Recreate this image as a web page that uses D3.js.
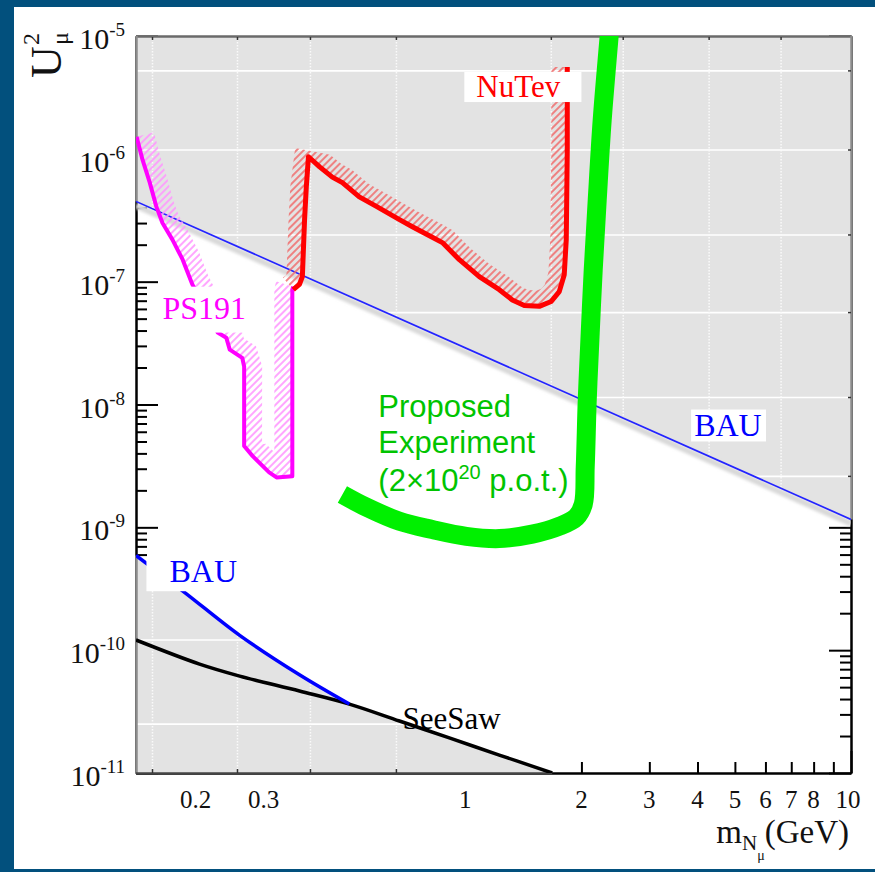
<!DOCTYPE html>
<html>
<head>
<meta charset="utf-8">
<script src="https://cdn.jsdelivr.net/npm/d3@7"></script>
<style>
  html, body { margin: 0; padding: 0; background: #02507d; }
  svg { display: block; }
</style>
</head>
<body>
<div id="chart"></div>
<script>
// ---- data (mass in GeV, U^2) ----
var massLabels = [0.2, 0.3, 1, 2, 3, 4, 5, 6, 7, 8, 10];
var massMinor = [0.2, 0.3, 0.4, 0.5, 0.6, 0.7, 0.8, 0.9, 2, 3, 4, 5, 6, 7, 8, 9];
var massMajor = [1, 10];
var u2Decades = [-11, -10, -9, -8, -7, -6, -5];

var bauUpper = [[0.14, 4.5e-7], [10, 1.16e-9]];
var bauLower = [[0.14, 5.9e-10], [0.187, 2.96e-10], [0.260, 1.32e-10], [0.3715, 6.3e-11], [0.5005, 3.64e-11]];
var seesaw = [[0.14, 1.21e-10], [0.2046, 7.7e-11], [0.260, 6.15e-11], [0.3715, 4.65e-11], [0.5005, 3.64e-11],
              [0.675, 2.65e-11], [0.909, 1.93e-11], [1.225, 1.40e-11], [1.65, 1.02e-11], [1.68, 1e-11]];

var ps191 = [[0.1405, 1.51e-6], [0.1456, 9.8e-7], [0.152, 6.4e-7], [0.158, 4.1e-7], [0.164, 3.0e-7],
             [0.174, 2.2e-7], [0.185, 1.51e-7], [0.196, 9.5e-8], [0.228, 3.85e-8], [0.240, 3.5e-8],
             [0.245, 2.8e-8], [0.264, 2.4e-8], [0.267, 2.04e-8], [0.267, 4.6e-9], [0.281, 3.8e-9],
             [0.310, 2.8e-9], [0.324, 2.55e-9], [0.356, 2.6e-9], [0.356, 3.0e-9], [0.356, 8.6e-8], [0.358, 9.1e-8]];

var nutev = [[0.358, 8.6e-8], [0.3715, 9.5e-8], [0.378, 1.10e-7], [0.383, 3.2e-7], [0.387, 5.9e-7],
             [0.392, 1.04e-6], [0.419, 8.6e-7], [0.452, 7.1e-7], [0.480, 6.4e-7], [0.531, 4.9e-7],
             [0.588, 4.1e-7], [0.675, 3.2e-7], [0.729, 2.8e-7], [0.821, 2.3e-7], [0.872, 2.08e-7],
             [0.965, 1.51e-7], [1.087, 1.10e-7], [1.225, 8.6e-8], [1.324, 7.1e-8], [1.422, 6.4e-8],
             [1.555, 6.3e-8], [1.670, 6.9e-8], [1.752, 8.3e-8], [1.805, 1.14e-7], [1.827, 2.2e-7],
             [1.838, 1.18e-6], [1.838, 5.6e-6]];

var proposed = [[0.480, 1.85e-9], [0.554, 1.46e-9], [0.675, 1.12e-9], [0.821, 9.6e-10], [1.006, 8.45e-10],
                [1.225, 8.1e-10], [1.491, 8.8e-10], [1.752, 1.02e-9], [1.939, 1.21e-9], [2.022, 1.54e-9],
                [2.046, 3.1e-9], [2.071, 1.1e-8], [2.108, 3.85e-8], [2.146, 1.25e-7], [2.198, 4.65e-7],
                [2.264, 2.07e-6], [2.36, 1e-5], [2.38, 1.4e-5]];

// grid of the pasted grey background
var bgGridU = [5.2e-6, 1.18e-6, 2.4e-7, 5.6e-8, 1.14e-8, 2.6e-9, 5.9e-10, 1.21e-10, 2.5e-11];
var bgGridM = [0.1545, 0.2566, 0.3967, 0.6627, 1.671, 2.567, 4.287, 6.587];

// ---- setup ----
var W = 875, H = 872;
var svg = d3.select("#chart").append("svg").attr("width", W).attr("height", H);
svg.append("rect").attr("width", W).attr("height", H).attr("fill", "#02507d");
svg.append("rect").attr("x", 14).attr("y", 7).attr("width", W - 14).attr("height", 862).attr("fill", "#fff");

var x = d3.scaleLog().domain([0.14, 10]).range([136, 851]);
var y = d3.scaleLog().domain([1e-11, 1e-5]).range([773, 36]);

var serif = "'Liberation Serif', 'Times New Roman', serif";
var sans = "'Liberation Sans', Arial, sans-serif";

var defs = svg.append("defs");
defs.append("clipPath").attr("id", "plotclip")
  .append("rect").attr("x", 136).attr("y", 36).attr("width", 715).attr("height", 737);

function hatch(id, color) {
  var p = defs.append("pattern").attr("id", id).attr("patternUnits", "userSpaceOnUse")
    .attr("width", 5).attr("height", 5).attr("patternTransform", "rotate(45)");
  p.append("line").attr("x1", 1).attr("y1", 0).attr("x2", 1).attr("y2", 5)
    .attr("stroke", color).attr("stroke-width", 1.7);
}
hatch("hatchRed", "#f07070");
hatch("hatchMag", "#ff96ff");

defs.append("filter").attr("id", "soft").append("feGaussianBlur").attr("stdDeviation", 1.5);

var line = d3.line().x(function(d) { return x(d[0]); }).y(function(d) { return y(d[1]); });
var smooth = d3.line().x(function(d) { return x(d[0]); }).y(function(d) { return y(d[1]); })
  .curve(d3.curveCatmullRom.alpha(0.5));

// ---- black axes ----
function styleAxis(g) {
  g.selectAll("path, line").attr("stroke", "#000").attr("stroke-width", 2);
  g.selectAll("text").remove();
}
var decadeVals = u2Decades.map(function(k) { return Math.pow(10, k); });
var u2Minor = [];
u2Decades.slice(0, -1).forEach(function(k) {
  for (var j = 2; j <= 9; j++) u2Minor.push(j * Math.pow(10, k));
});

svg.append("g").attr("transform", "translate(136,0)")
  .call(d3.axisLeft(y).tickValues(decadeVals).tickSizeInner(-22).tickSizeOuter(0).tickFormat(""))
  .call(styleAxis);
svg.append("g").attr("transform", "translate(136,0)")
  .call(d3.axisLeft(y).tickValues(u2Minor).tickSizeInner(-11).tickSizeOuter(0).tickFormat(""))
  .call(styleAxis);
svg.append("g").attr("transform", "translate(851,0)")
  .call(d3.axisRight(y).tickValues(decadeVals).tickSizeInner(-22).tickSizeOuter(0).tickFormat(""))
  .call(styleAxis);
svg.append("g").attr("transform", "translate(851,0)")
  .call(d3.axisRight(y).tickValues(u2Minor).tickSizeInner(-11).tickSizeOuter(0).tickFormat(""))
  .call(styleAxis);
svg.append("g").attr("transform", "translate(0,773)")
  .call(d3.axisBottom(x).tickValues(massMinor).tickSizeInner(-11).tickSizeOuter(0).tickFormat(""))
  .call(styleAxis);
svg.append("g").attr("transform", "translate(0,773)")
  .call(d3.axisBottom(x).tickValues(massMajor).tickSizeInner(-22).tickSizeOuter(0).tickFormat(""))
  .call(styleAxis);

// ---- grey excluded regions (pasted picture) ----
var seesawRest = seesaw.filter(function(d) { return d[0] >= 0.5005; });
var upperPath = line(bauUpper.concat([[10, 1e-5], [0.14, 1e-5]])) + "Z";
var lowerPath = smooth(bauLower) + "L" + smooth(seesawRest).slice(1) +
  "L" + x(0.14) + "," + y(1e-11) + "Z";

var greyClip = defs.append("clipPath").attr("id", "greyclip");
[upperPath, lowerPath].forEach(function(d) {
  greyClip.append("path").attr("d", d);
  svg.append("path").attr("d", d).attr("fill", "#e3e3e3");
});

var grid = svg.append("g").attr("clip-path", "url(#greyclip)");
bgGridU.forEach(function(u) {
  grid.append("line").attr("x1", 136).attr("x2", 851).attr("y1", y(u)).attr("y2", y(u))
    .attr("stroke", "#fff").attr("stroke-width", 1.6);
});
bgGridM.forEach(function(m) {
  grid.append("line").attr("x1", x(m)).attr("x2", x(m)).attr("y1", 36).attr("y2", 773)
    .attr("stroke", "#fafafa").attr("stroke-width", 1.5).attr("stroke-dasharray", "1.5,1.5");
});

// grey frame of the pasted picture
var frame = svg.append("g").attr("fill", "none");
frame.append("line").attr("x1", 136).attr("x2", 852).attr("y1", 36.5).attr("y2", 36.5)
  .attr("stroke", "#6a6a6a").attr("stroke-width", 2.5);
frame.append("line").attr("x1", 136.5).attr("x2", 136.5).attr("y1", 36).attr("y2", y(bauUpper[0][1]))
  .attr("stroke", "#8c8c8c").attr("stroke-width", 2.5);
frame.append("line").attr("x1", 851.5).attr("x2", 851.5).attr("y1", 36).attr("y2", y(bauUpper[1][1]))
  .attr("stroke", "#8c8c8c").attr("stroke-width", 2.5);
frame.append("line").attr("x1", 136.5).attr("x2", 136.5).attr("y1", y(bauLower[0][1])).attr("y2", 774)
  .attr("stroke", "#8c8c8c").attr("stroke-width", 2.5);
frame.append("line").attr("x1", 136).attr("x2", x(1.68)).attr("y1", 773.5).attr("y2", 773.5)
  .attr("stroke", "#444").attr("stroke-width", 2.5);
bgGridM.forEach(function(m) {
  frame.append("line").attr("x1", x(m)).attr("x2", x(m)).attr("y1", 37).attr("y2", 40)
    .attr("stroke", "#333").attr("stroke-width", 1.5);
  if (m < 1.6) frame.append("line").attr("x1", x(m)).attr("x2", x(m)).attr("y1", 769).attr("y2", 773)
    .attr("stroke", "#333").attr("stroke-width", 1.5);
});
bgGridU.forEach(function(u) {
  if (y(u) < y(bauUpper[1][1])) frame.append("line").attr("x1", 848).attr("x2", 851)
    .attr("y1", y(u)).attr("y2", y(u)).attr("stroke", "#333").attr("stroke-width", 1.5);
});

// ---- curves ----
var plot = svg.append("g").attr("clip-path", "url(#plotclip)");

plot.append("path").attr("d", line(bauUpper)).attr("fill", "none").attr("stroke", "#d8d8d8")
  .attr("stroke-width", 6).attr("transform", "translate(0,4)").attr("filter", "url(#soft)");
plot.append("path").attr("d", line(bauUpper)).attr("fill", "none").attr("stroke", "#2424ff")
  .attr("stroke-width", 1.7);

// hatched band on the left-hand side of the travel direction
function band(pts, w) {
  var n = pts.length, outer = [];
  for (var i = 0; i < n; i++) {
    var a = pts[Math.max(0, i - 1)], b = pts[Math.min(n - 1, i + 1)];
    var dx = b[0] - a[0], dy = b[1] - a[1], L = Math.hypot(dx, dy) || 1;
    outer.push([pts[i][0] + w * dy / L, pts[i][1] - w * dx / L]);
  }
  return "M" + pts.concat(outer.reverse()).map(function(p) { return p.join(","); }).join("L") + "Z";
}
function screen(data) { return data.map(function(d) { return [x(d[0]), y(d[1])]; }); }

plot.append("path").attr("d", band(screen(ps191), 18)).attr("fill", "url(#hatchMag)");
plot.append("path").attr("d", band(screen(nutev), 16)).attr("fill", "url(#hatchRed)");

plot.append("path").attr("d", line(ps191)).attr("fill", "none").attr("stroke", "#ff00ff")
  .attr("stroke-width", 4).attr("stroke-linejoin", "round");
plot.append("path").attr("d", line(nutev)).attr("fill", "none").attr("stroke", "#ff0000")
  .attr("stroke-width", 5).attr("stroke-linejoin", "round");
plot.append("path").attr("d", smooth(seesaw)).attr("fill", "none").attr("stroke", "#000")
  .attr("stroke-width", 3.5);
plot.append("path").attr("d", smooth(bauLower)).attr("fill", "none").attr("stroke", "#0000ff")
  .attr("stroke-width", 3.5);
plot.append("path").attr("d", smooth(proposed)).attr("fill", "none").attr("stroke", "#00f000")
  .attr("stroke-width", 19).attr("stroke-linejoin", "round");

// ---- labels ----
function box(m0, u0, m1, u1) {
  svg.append("rect").attr("x", x(m0)).attr("y", y(u0))
    .attr("width", x(m1) - x(m0)).attr("height", y(u1) - y(u0)).attr("fill", "#fff");
}
function label(txt, m, u, color, size) {
  return svg.append("text").attr("x", x(m)).attr("y", y(u)).attr("fill", color)
    .attr("font-family", serif).attr("font-size", size).text(txt);
}
box(0.994, 5.1e-6, 2.0, 2.9e-6);
label("NuTev", 1.068, 3.19e-6, "#ff0000", 31);
box(0.152, 9.1e-8, 0.312, 3.85e-8);
label("PS191", 0.164, 5.0e-8, "#ff00ff", 32);
box(3.85, 9.1e-9, 6.02, 5.0e-9);
label("BAU", 3.92, 5.5e-9, "#0000ff", 32);
box(0.149, 5.5e-10, 0.276, 3.02e-10);
label("BAU", 0.171, 3.57e-10, "#0000ff", 32);
label("SeeSaw", 0.687, 2.28e-11, "#000", 31);

var green = svg.append("g").attr("fill", "#00c400").attr("font-family", sans).attr("font-size", 31);
green.append("text").attr("x", x(0.595)).attr("y", y(7.98e-9)).text("Proposed");
green.append("text").attr("x", x(0.595)).attr("y", y(4.0e-9)).text("Experiment");
var pot = green.append("text").attr("x", x(0.595)).attr("y", y(1.96e-9));
pot.append("tspan").text("(2\u00d710");
pot.append("tspan").attr("dy", -12).attr("font-size", 20).text("20");
pot.append("tspan").attr("dy", 12).text(" p.o.t.)");

// ---- tick labels ----
u2Decades.forEach(function(k) {
  var t = svg.append("text").attr("x", 125).attr("y", y(Math.pow(10, k)) + 13)
    .attr("text-anchor", "end").attr("font-family", serif).attr("font-size", 30).attr("fill", "#111");
  t.append("tspan").text("10");
  t.append("tspan").attr("dy", -13).attr("font-size", 19).text("-" + (-k));
});
massLabels.forEach(function(m) {
  svg.append("text").attr("x", x(m) - (m === 10 ? 3 : 0)).attr("y", 808).attr("text-anchor", "middle")
    .attr("font-family", serif).attr("font-size", 25).attr("fill", "#111").text(m);
});

// ---- axis titles ----
var xt = svg.append("text").attr("x", 849).attr("y", 843).attr("text-anchor", "end")
  .attr("font-family", serif).attr("font-size", 33).attr("fill", "#111");
xt.append("tspan").text("m");
xt.append("tspan").attr("dy", 7).attr("font-size", 21).text("N");
xt.append("tspan").attr("dy", 10).attr("font-size", 14).text("\u03bc");
xt.append("tspan").attr("dy", -17).text("(GeV)");

var yt = svg.append("g").attr("transform", "translate(61,78) rotate(-90)")
  .attr("font-family", serif).attr("fill", "#111");
yt.append("text").attr("x", 0).attr("y", 0).attr("font-size", 44).text("U");
yt.append("text").attr("x", 33).attr("y", -22).attr("font-size", 24).text("2");
yt.append("text").attr("x", 33).attr("y", 7).attr("font-size", 24).text("\u03bc");
</script>
</body>
</html>
